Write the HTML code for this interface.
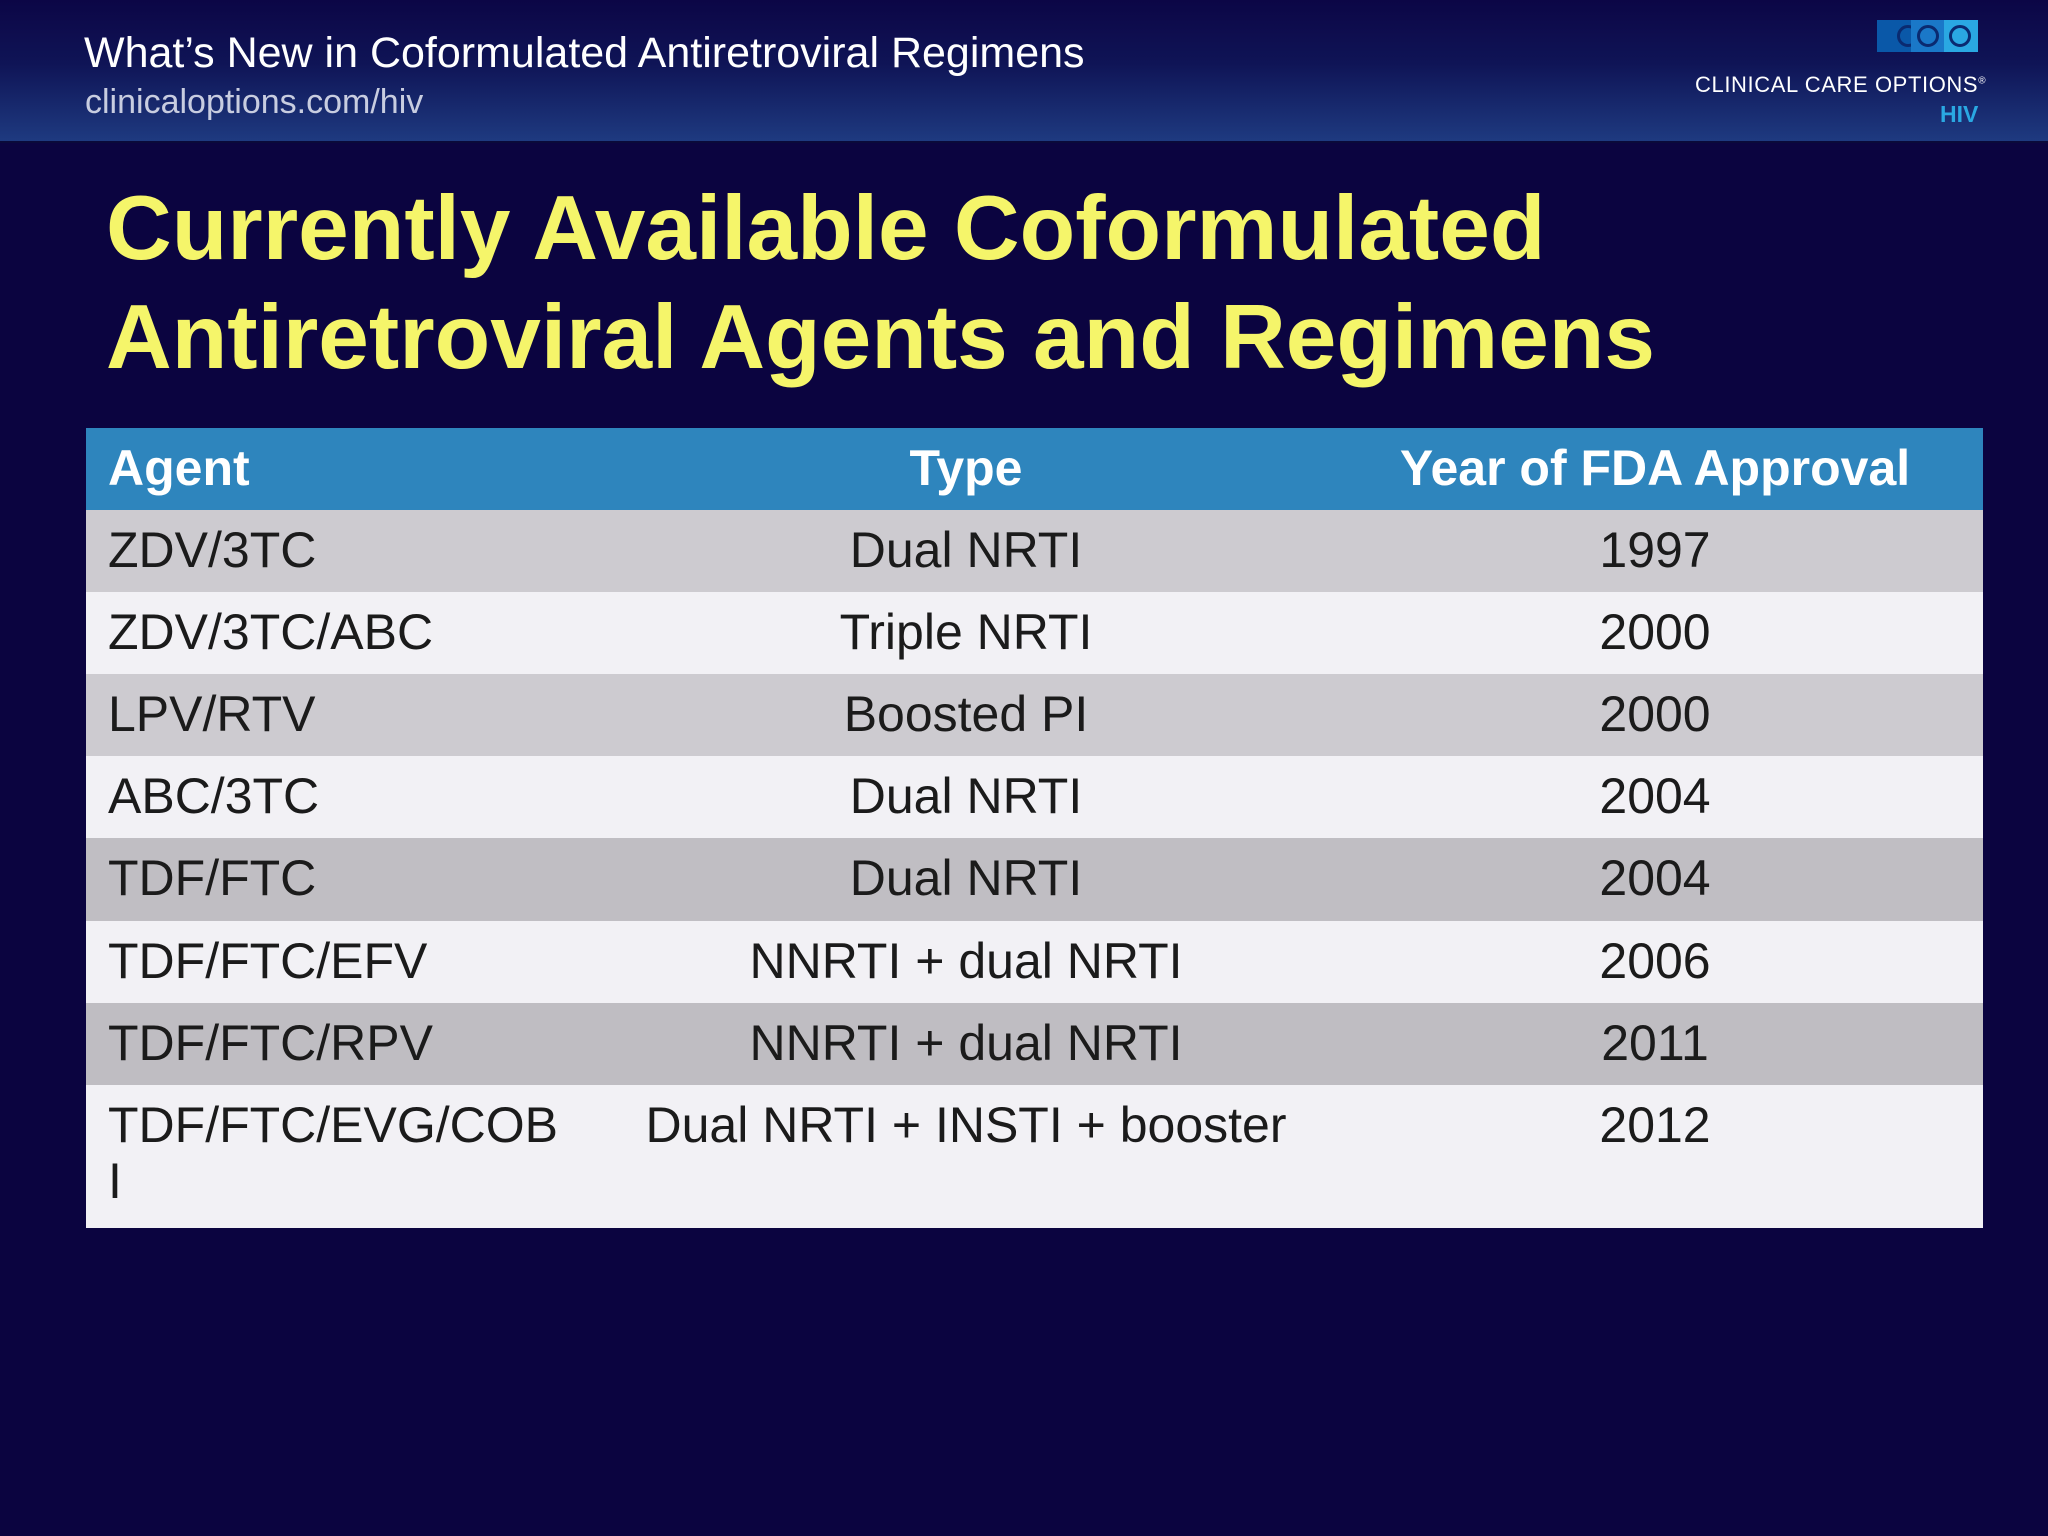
<!DOCTYPE html>
<html><head><meta charset="utf-8"><style>
*{margin:0;padding:0;box-sizing:border-box}
body{width:2048px;height:1536px;background:#0b0440;font-family:"Liberation Sans",Arial,sans-serif;position:relative;overflow:hidden}
.abs{position:absolute;white-space:nowrap}
#hdr{left:0;top:0;width:2048px;height:143px;background:linear-gradient(#0c0646 0%,#0f1456 45%,#1e3a80 100%);border-bottom:2px solid #0a0a3a}
.row{position:absolute;left:86px;width:1897px}
.c{position:absolute;font-size:50px;color:#1b1b1b;line-height:1;white-space:nowrap}
.a{left:22px}
.t{left:880px;transform:translateX(-50%);text-align:center}
.y{left:1569px;transform:translateX(-50%)}
.h{color:#fff;font-weight:bold;font-size:50px}
</style></head><body>
<div id="hdr" class="abs"></div>
<div class="abs" style="left:84px;top:29px;font-size:43px;color:#fff">What’s New in Coformulated Antiretroviral Regimens</div>
<div class="abs" style="left:85px;top:83px;font-size:34px;color:#c8cde0">clinicaloptions.com/hiv</div>
<div class="abs" style="left:1877px;top:20px;width:101px;height:32px;display:flex;overflow:hidden">
 <div style="width:34px;height:32px;background:#0a58a8;position:relative;overflow:hidden"><div style="position:absolute;left:20px;top:5px;width:22px;height:22px;border:3px solid #0a2a70;border-radius:50%"></div></div>
 <div style="width:33px;height:32px;background:#1a78c8;position:relative"><div style="position:absolute;left:6px;top:5px;width:22px;height:22px;border:3px solid #0a2a70;border-radius:50%"></div></div>
 <div style="width:34px;height:32px;background:#2aa8e2;position:relative"><div style="position:absolute;left:5px;top:5px;width:22px;height:22px;border:3px solid #0a2a70;border-radius:50%"></div></div>
</div>
<div class="abs" style="left:1695px;top:72px;font-size:22px;color:#fff;letter-spacing:0.6px">CLINICAL CARE OPTIONS<sup style="font-size:10px">®</sup></div>
<div class="abs" style="left:1940px;top:101px;font-size:23px;font-weight:bold;color:#2aa8e2">HIV</div>

<div class="abs" style="left:106px;top:174px;font-size:91px;font-weight:bold;color:#f5f56a;line-height:109px">Currently Available Coformulated<br>Antiretroviral Agents and Regimens</div>

<div>
<div class="row" style="top:428px;height:82px;background:#2e85bd">
 <div class="c a h" style="top:15px">Agent</div><div class="c t h" style="top:15px">Type</div><div class="c y h" style="top:15px">Year of FDA Approval</div></div>
<div class="row" style="top:510px;height:82px;background:#cdcbd0"><div class="c a" style="top:15px">ZDV/3TC</div><div class="c t" style="top:15px">Dual NRTI</div><div class="c y" style="top:15px">1997</div></div>
<div class="row" style="top:592px;height:82px;background:#f2f1f5"><div class="c a" style="top:15px">ZDV/3TC/ABC</div><div class="c t" style="top:15px">Triple NRTI</div><div class="c y" style="top:15px">2000</div></div>
<div class="row" style="top:674px;height:82px;background:#cdcbd0"><div class="c a" style="top:15px">LPV/RTV</div><div class="c t" style="top:15px">Boosted PI</div><div class="c y" style="top:15px">2000</div></div>
<div class="row" style="top:756px;height:82px;background:#f2f1f5"><div class="c a" style="top:15px">ABC/3TC</div><div class="c t" style="top:15px">Dual NRTI</div><div class="c y" style="top:15px">2004</div></div>
<div class="row" style="top:838px;height:83px;background:#c0bec3"><div class="c a" style="top:15px">TDF/FTC</div><div class="c t" style="top:15px">Dual NRTI</div><div class="c y" style="top:15px">2004</div></div>
<div class="row" style="top:921px;height:82px;background:#f2f1f5"><div class="c a" style="top:15px">TDF/FTC/EFV</div><div class="c t" style="top:15px">NNRTI + dual NRTI</div><div class="c y" style="top:15px">2006</div></div>
<div class="row" style="top:1003px;height:82px;background:#bfbdc2"><div class="c a" style="top:15px">TDF/FTC/RPV</div><div class="c t" style="top:15px">NNRTI + dual NRTI</div><div class="c y" style="top:15px">2011</div></div>
<div class="row" style="top:1085px;height:143px;background:#f2f1f5"><div class="c a" style="top:12px;line-height:56px">TDF/FTC/EVG/COB<br>I</div><div class="c t" style="top:15px">Dual NRTI + INSTI + booster</div><div class="c y" style="top:15px">2012</div></div>
</div>
</body></html>
